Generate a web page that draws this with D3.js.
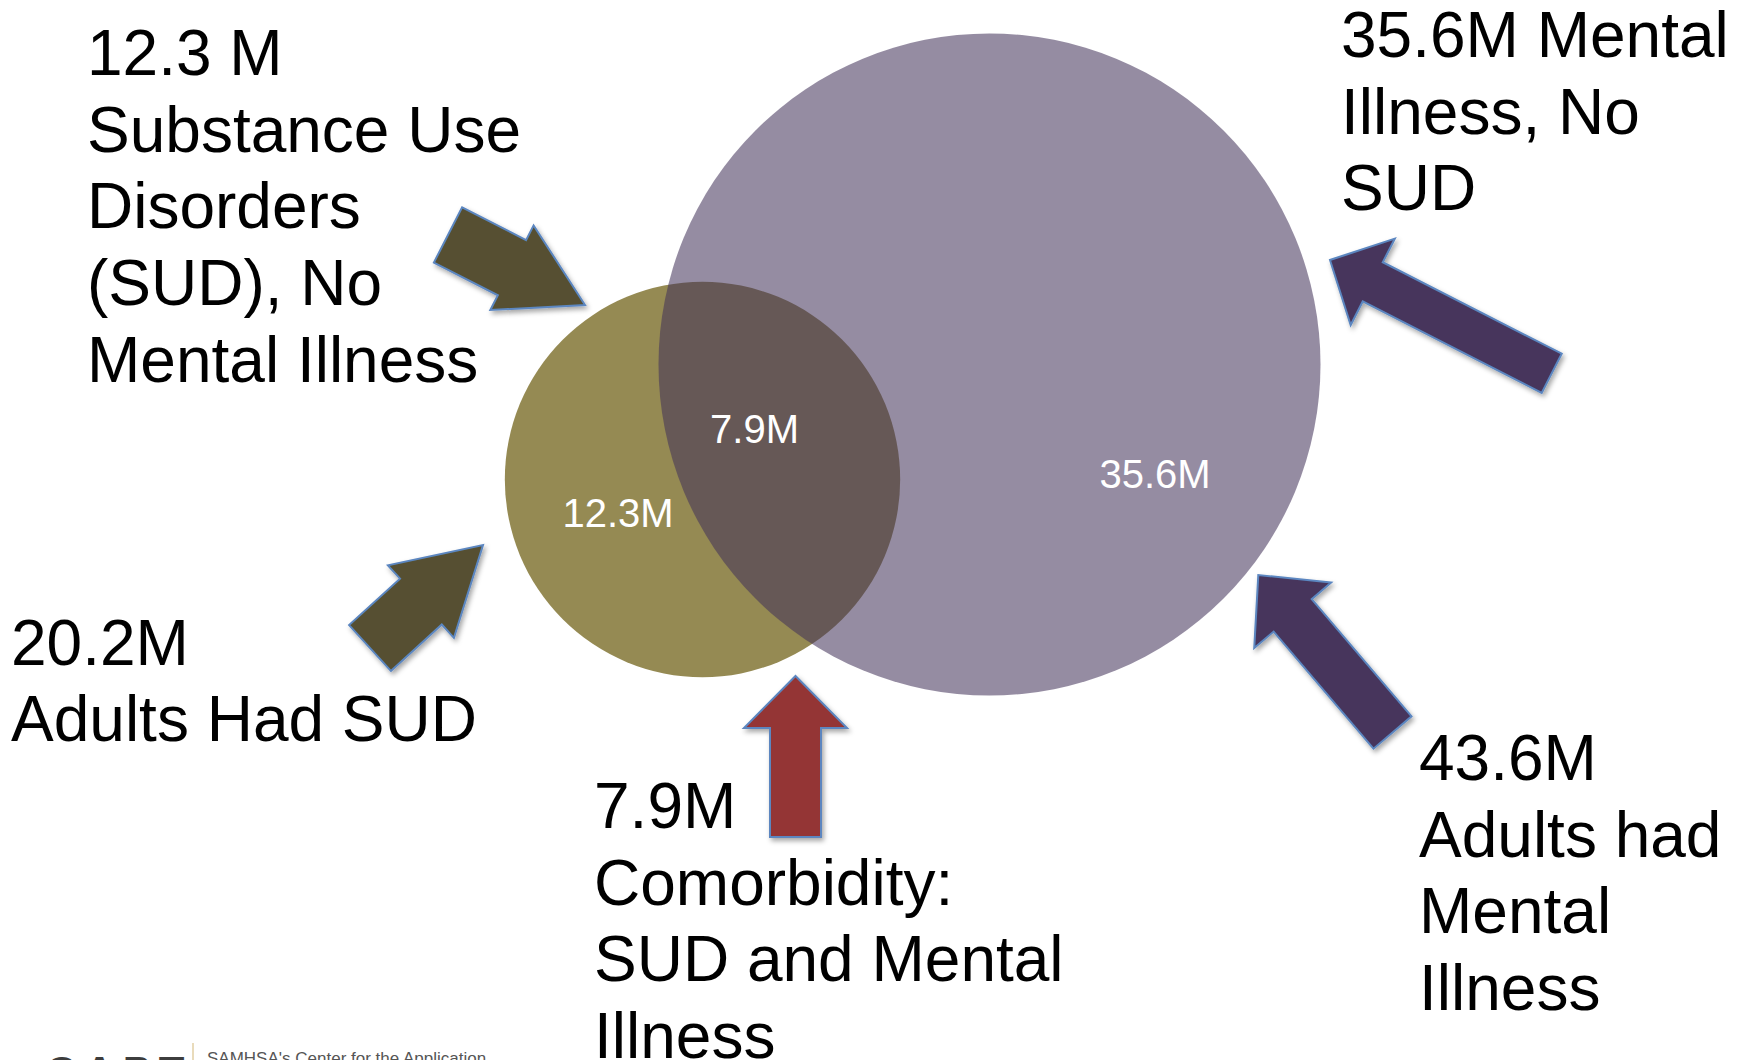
<!DOCTYPE html>
<html>
<head>
<meta charset="utf-8">
<script src="https://cdn.jsdelivr.net/npm/d3@7"></script>
<style>
  html, body { margin: 0; padding: 0; background: #ffffff; }
  svg { display: block; }
  text { font-family: "Liberation Sans", Arial, Helvetica, sans-serif; }
</style>
</head>
<body>
<svg id="chart" width="1740" height="1060"></svg>
<script>
// Adults (millions) with substance use disorder (SUD) and/or mental illness (MI)
const regions = ["SUD only", "SUD and MI", "MI only"];
const regionValues = [12.3, 7.9, 35.6];
const groups = ["SUD", "MI"];
const groupTotals = [20.2, 43.6];

const W = 1740, H = 1060;
const svg = d3.select("#chart");
const fmt = v => d3.format(".1f")(v) + "M";

// Circle radius grows with group size
const rScale = d3.scalePow().exponent(0.67).domain([0, d3.max(groupTotals)]).range([0, 331]);

// Circle centres (layout)
const centers = { SUD: [702.5, 479.5], MI: [989.5, 364.5] };
const fills = { SUD: "#958a53", MI: "#42325a" };
const opac = { SUD: 1, MI: 0.56 };

const defs = svg.append("defs");
const shadow = defs.append("filter").attr("id", "shadow")
  .attr("x", "-20%").attr("y", "-20%").attr("width", "140%").attr("height", "140%");
shadow.append("feDropShadow").attr("dx", 2).attr("dy", 3).attr("stdDeviation", 2.5)
  .attr("flood-color", "#000").attr("flood-opacity", 0.35);

// Venn circles
svg.append("g").selectAll("circle")
  .data(groups.map((g, i) => ({ g, v: groupTotals[i] })))
  .join("circle")
  .attr("cx", d => centers[d.g][0])
  .attr("cy", d => centers[d.g][1])
  .attr("r", d => rScale(d.v))
  .attr("fill", d => fills[d.g])
  .attr("fill-opacity", d => opac[d.g]);

// Region value labels inside the circles
const regionLabelPos = [[618, 527], [754.5, 443], [1155, 488]];
svg.append("g").selectAll("text")
  .data(regions.map((r, i) => ({ r, v: regionValues[i], p: regionLabelPos[i] })))
  .join("text")
  .attr("x", d => d.p[0]).attr("y", d => d.p[1])
  .attr("text-anchor", "middle")
  .attr("font-size", 40)
  .attr("fill", "#ffffff")
  .text(d => fmt(d.v));

// Block arrows pointing at the regions
const arrows = [
  { tail: [448, 235], tip: [585, 305], sw: 62, hw: 95, hl: 82, fill: "#565030" },
  { tail: [370, 648], tip: [483, 545], sw: 62, hw: 98, hl: 84, fill: "#565030" },
  { tail: [795.5, 837], tip: [795.5, 676], sw: 51, hw: 103, hl: 52, fill: "#943634" },
  { tail: [1551.7, 373.3], tip: [1330, 260], sw: 44, hw: 97, hl: 48, fill: "#46365c" },
  { tail: [1392.5, 732.5], tip: [1258.3, 575], sw: 50, hw: 101, hl: 53, fill: "#46365c" }
];
function arrowPoints(a) {
  const dx = a.tip[0] - a.tail[0], dy = a.tip[1] - a.tail[1];
  const len = Math.hypot(dx, dy);
  const ux = dx / len, uy = dy / len, nx = -uy, ny = ux;
  const neck = [a.tip[0] - ux * a.hl, a.tip[1] - uy * a.hl];
  const p = (b, w) => [b[0] + nx * w, b[1] + ny * w];
  return [p(a.tail, a.sw / 2), p(neck, a.sw / 2), p(neck, a.hw / 2), a.tip,
          p(neck, -a.hw / 2), p(neck, -a.sw / 2), p(a.tail, -a.sw / 2)];
}
const line = d3.line().curve(d3.curveLinearClosed);
svg.append("g").selectAll("path")
  .data(arrows)
  .join("path")
  .attr("d", d => line(arrowPoints(d)))
  .attr("fill", d => d.fill)
  .attr("stroke", "#5b86c0")
  .attr("stroke-width", 2)
  .attr("stroke-linejoin", "miter")
  .attr("filter", "url(#shadow)");

// Callout texts
const callouts = [
  { x: 87, y: 75, dy: 76.7, lines: [d3.format(".1f")(regionValues[0]) + " M", "Substance Use", "Disorders", "(SUD), No", "Mental Illness"] },
  { x: 11, y: 665, dy: 76, lines: [fmt(groupTotals[0]), "Adults Had SUD"] },
  { x: 594, y: 828, dy: 76.5, lines: [fmt(regionValues[1]), "Comorbidity:", "SUD and Mental", "Illness"] },
  { x: 1341, y: 57, dy: 76.5, lines: [fmt(regionValues[2]) + " Mental", "Illness, No", "SUD"] },
  { x: 1419, y: 780, dy: 76.7, lines: [fmt(groupTotals[1]), "Adults had", "Mental", "Illness"] }
];
const ct = svg.append("g").selectAll("text")
  .data(callouts)
  .join("text")
  .attr("font-size", 64)
  .attr("fill", "#000000");
ct.selectAll("tspan")
  .data(d => d.lines.map((l, i) => ({ l, x: d.x, y: d.y + i * d.dy })))
  .join("tspan")
  .attr("x", d => d.x).attr("y", d => d.y)
  .text(d => d.l);

// Footer logo, cut by the page edge
const footer = svg.append("g");
footer.append("text")
  .attr("x", 46).attr("y", 1086)
  .attr("font-size", 42).attr("font-weight", "bold")
  .attr("letter-spacing", 8)
  .attr("fill", "#3d3d3d")
  .text("CAPT");
footer.append("line")
  .attr("x1", 193).attr("x2", 193).attr("y1", 1043).attr("y2", H)
  .attr("stroke", "#e2cfa4").attr("stroke-width", 1.5);
footer.append("text")
  .attr("x", 207).attr("y", 1064)
  .attr("font-size", 17)
  .attr("fill", "#555555")
  .text("SAMHSA's Center for the Application");
</script>
</body>
</html>
